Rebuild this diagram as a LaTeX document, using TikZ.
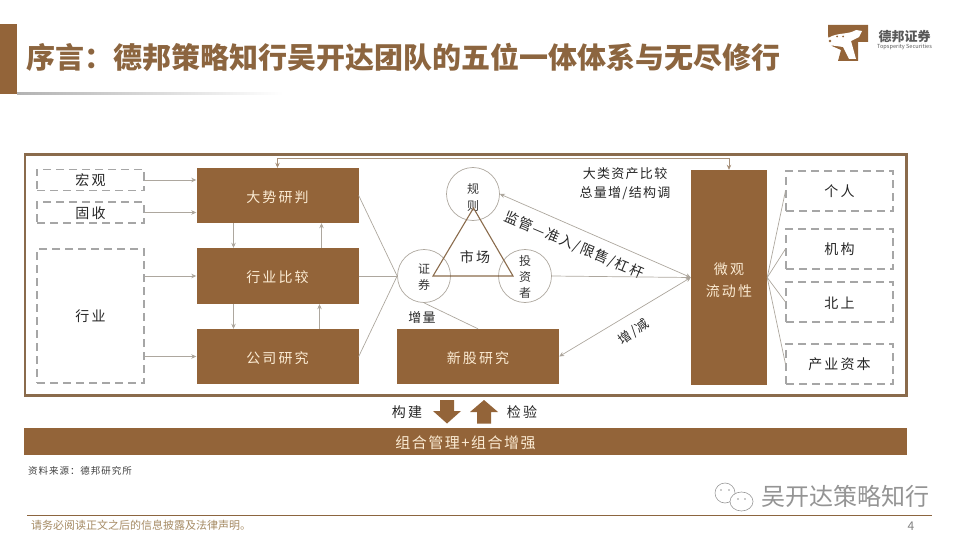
\documentclass[tikz,border=0pt]{standalone}
\usepackage{fontspec}
\setmainfont{Noto Sans CJK SC}
\newfontfamily\spaced[LetterSpace=15]{Noto Sans CJK SC}
\newfontfamily\spacedsmall[LetterSpace=10]{Noto Sans CJK SC}
\usetikzlibrary{arrows.meta}
\definecolor{primary}{HTML}{936439}
\definecolor{titlecol}{HTML}{8C653F}
\definecolor{framecol}{HTML}{8A6B4C}
\definecolor{linecol}{HTML}{ADA79E}
\definecolor{dashcol}{HTML}{A6A6A6}
\definecolor{creamcol}{HTML}{FBEBD3}
\definecolor{footcol}{HTML}{A58A63}

\begin{document}
\begin{tikzpicture}[
    x=1pt, y=-1pt,
    brownbox/.style={fill=primary, inner sep=0pt, align=center, text height=15pt,
                 font=\spaced\fontsize{14}{22}\selectfont, text=creamcol},
    dashbox/.style={draw=dashcol, dash pattern=on 8pt off 5pt, line width=1.1pt, text height=13pt,
                 inner sep=0pt, font=\spaced\fontsize{14}{18}\selectfont, text=black!85},
    ring/.style={draw=linecol, circle, line width=0.7pt, minimum size=53pt, inner sep=0pt,
                 align=center, font=\fontsize{12}{16}\selectfont, text=black!80},
    arrow/.style={draw=linecol, line width=0.7pt, -{Stealth[length=5pt,width=4.5pt,fill=framecol]}},
    biarrow/.style={draw=linecol, line width=0.7pt,
                 {Stealth[length=5pt,width=4.5pt,fill=framecol]}-{Stealth[length=5pt,width=4.5pt,fill=framecol]}},
    link/.style={draw=linecol, line width=0.7pt},
    label/.style={font=\spacedsmall\fontsize{13}{19}\selectfont, text=black!85, align=center, inner sep=0pt},
]
\useasboundingbox (0,0) rectangle (960,540);

% Title
\node[fill=primary, minimum width=17pt, minimum height=70pt, inner sep=0pt, anchor=north west] (bar) at (0,24) {};
\node[font=\fontsize{29}{32}\selectfont\bfseries, text=titlecol, anchor=west, inner sep=0pt] (title) at (26,57)
    {序言：德邦策略知行吴开达团队的五位一体体系与无尽修行};
\shade[left color=black!30, right color=white] (17,93) rectangle (283,94.5);

% Logo
\fill[primary] (828,25) -- (868,25) -- (868,42) -- (858,42) -- (858,61) -- (838,61) -- (841,50) -- (832,46) -- (828,36) -- cycle;
\fill[white] (828,38) .. controls (838,32) and (848,35) .. (856,30) -- (862,31) -- (859,37) -- (851,41) -- (856,59) -- (849,59) -- (843,47) -- (836,46) -- (828,45) -- cycle;
\fill[primary] (830,41) circle (1.3pt) (837,36.5) circle (1pt) (843,36.5) circle (1pt);
\node[font=\fontsize{13}{14}\selectfont\bfseries, text=black!65, inner sep=0pt] (logotext) at (904.5,37) {德邦证券};
\node[font=\fontsize{5.6}{6}\selectfont, text=black!65, inner sep=0pt] (logosub) at (904.5,47) {Topsperity Securities};

% Frame
\node[draw=framecol, line width=2.6pt, outer sep=0pt, minimum width=881.5pt, minimum height=240.6pt, inner sep=0pt, anchor=north west] (frame) at (25,154.7) {};

% Left inputs
\node[dashbox, minimum width=107pt, minimum height=21pt] (macro) at (90.5,180) {宏观};
\node[dashbox, minimum width=107pt, minimum height=21pt] (bond) at (90.5,212.5) {固收};
\node[dashbox, minimum width=107pt, minimum height=134pt] (sector) at (90.5,316) {行业};

% Research boxes
\node[brownbox, minimum width=162pt, minimum height=55pt] (trend) at (277.5,195.5) {大势研判};
\node[brownbox, minimum width=162pt, minimum height=56pt] (industry) at (277.5,276) {行业比较};
\node[brownbox, minimum width=162pt, minimum height=55pt] (company) at (277.5,356.5) {公司研究};
\node[brownbox, minimum width=162pt, minimum height=55pt] (ipo) at (478,356.5) {新股研究};
\node[brownbox, text height=40pt, minimum width=76pt, minimum height=215pt] (flow) at (729,277.5) {微观\\流动性};

% Market triangle
\node[ring, text height=33pt] (rule) at (473,194) {规\\[1pt]则};
\node[ring, text height=27pt] (sec) at (424,276) {证\\券};
\node[ring, text height=43pt] (inv) at (525,276) {投\\资\\者};
\coordinate (apex) at (473.5,208);
\coordinate (tleft) at (433,276);
\coordinate (tright) at (513,276);
\draw[draw=framecol, line width=1.1pt] (apex) -- (tleft) -- (tright) -- cycle;
\node[label, font=\spaced\fontsize{14}{18}\selectfont] (market) at (475,257) {市场};

% Right inputs
\node[dashbox, minimum width=107pt, minimum height=40pt] (person) at (839.5,191) {个人};
\node[dashbox, minimum width=107pt, minimum height=40pt] (inst) at (839.5,249) {机构};
\node[dashbox, minimum width=107pt, minimum height=40pt] (north) at (839.5,302) {北上};
\node[dashbox, minimum width=107pt, minimum height=40pt] (capital) at (839.5,364) {产业资本};

% Labels
\node[label] (assets) at (625,184) {大类资产比较\\总量增/结构调};
\node[label, rotate=-23, font=\spacedsmall\fontsize{14}{18}\selectfont] (watch) at (574,245) {监管—准入/限售/杠杆};
\node[label, rotate=36] (updown) at (634,332) {增/减};
\node[label] (addon) at (422,318) {增量};

% Arrows
\draw[arrow] (macro.east) -- (macro.east -| trend.west);
\draw[arrow] (bond.east) -- (bond.east -| trend.west);
\draw[arrow] (sector.east |- industry.west) -- (industry.west);
\draw[arrow] (sector.east |- company.west) -- (company.west);
\draw[arrow] ([xshift=-44pt]trend.south) -- ([xshift=-44pt]trend.south |- industry.north);
\draw[arrow] ([xshift=44pt]industry.north) -- ([xshift=44pt]industry.north |- trend.south);
\draw[arrow] ([xshift=-44pt]industry.south) -- ([xshift=-44pt]industry.south |- company.north);
\draw[arrow] ([xshift=42pt]company.north) -- ([xshift=42pt]company.north |- industry.south);
\draw[biarrow, draw=framecol!75] (flow.north) -- ++(0,-11.5) -| (trend.north);
\draw[link] (trend.east) -- (sec.west);
\draw[link] (industry.east) -- (sec.west);
\draw[link] (company.east) -- (sec.west);
\draw[link] (sec.south) -- (ipo.north);
\draw[arrow] (inv.east) -- (flow.west);
\draw[biarrow] (rule.east) -- (flow.west);
\draw[biarrow] (ipo.east) -- (flow.west);
\draw[link] (flow.east) -- (person.west);
\draw[link] (flow.east) -- (inst.west);
\draw[link] (flow.east) -- (north.west);
\draw[link] (flow.east) -- (capital.west);

% Bottom
\node[label, font=\spaced\fontsize{14}{18}\selectfont] (build) at (407,412) {构建};
\node[label, font=\spaced\fontsize{14}{18}\selectfont] (check) at (522,412) {检验};
\fill[primary] (440,400) -- (454,400) -- (454,411) -- (461,411) -- (447,423.5) -- (433,411) -- (440,411) -- cycle;
\fill[primary] (477,423.5) -- (491,423.5) -- (491,412) -- (498,412) -- (484,400) -- (470,412) -- (477,412) -- cycle;
\node[brownbox, font=\spacedsmall\fontsize{15}{18}\selectfont, minimum width=883pt, minimum height=27pt] (portfolio) at (465.5,441.5) {组合管理+组合增强};
\node[font=\spacedsmall\fontsize{9.5}{11}\selectfont, text=black!75, anchor=west, inner sep=0pt] (source) at (28,471) {资料来源：德邦研究所};

% Footer
\node[font=\fontsize{24}{26}\selectfont, text=black!42, anchor=west, inner sep=0pt] (mark) at (761,496) {吴开达策略知行};
\draw[black!40, line width=0.6pt] (725,493) ellipse (10pt and 10pt);
\draw[black!40, line width=0.6pt, fill=white] (741.5,501.5) ellipse (11.5pt and 9.5pt);
\fill[black!40] (721,490) circle (0.8pt) (729,490) circle (0.8pt) (738,499) circle (0.8pt) (745,499) circle (0.8pt);
\draw[titlecol, line width=0.8pt] (27,515.5) -- (932,515.5);
\node[font=\fontsize{11}{13}\selectfont, text=footcol, anchor=west, inner sep=0pt] (legal) at (31,525) {请务必阅读正文之后的信息披露及法律声明。};
\node[font=\fontsize{12}{13}\selectfont, text=black!50, inner sep=0pt] (page) at (911,526) {4};

\end{tikzpicture}
\end{document}
